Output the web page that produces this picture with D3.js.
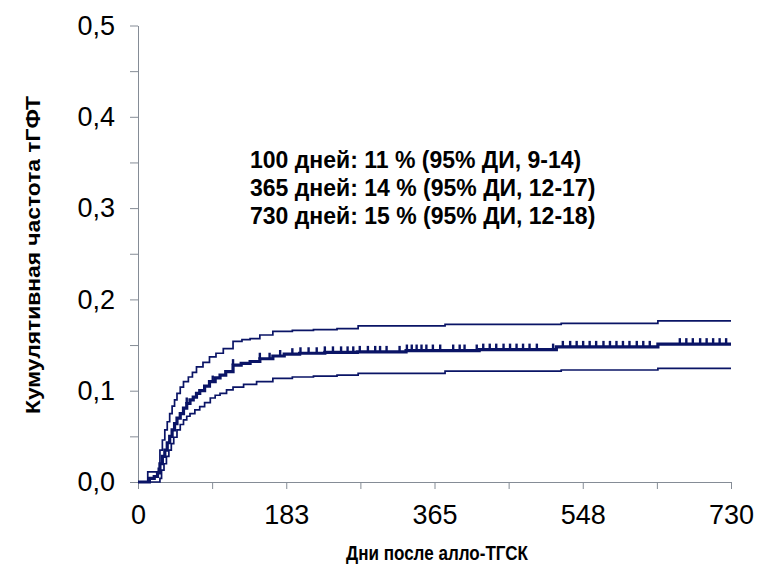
<!DOCTYPE html>
<html>
<head>
<meta charset="utf-8">
<script src="https://cdn.jsdelivr.net/npm/d3@7"></script>
<style>
  body { margin: 0; background: #fff; }
  svg { display: block; font-family: "Liberation Sans", Arial, sans-serif; }
</style>
</head>
<body>
<svg id="chart" width="758" height="568"></svg>
<script>
// cumulative incidence, estimate (step points)
const midDays = [0, 14, 20, 24, 27, 30, 33, 36, 39, 42, 45, 48, 52, 56, 60, 64, 68, 72, 76, 82, 88, 95, 101, 108, 117, 127, 138, 150, 166, 180, 199, 230, 270, 330, 420, 515, 640, 730];
const midVals = [0, 0.004, 0.006, 0.010, 0.020, 0.028, 0.035, 0.043, 0.050, 0.057, 0.064, 0.070, 0.075, 0.081, 0.086, 0.090, 0.093, 0.097, 0.100, 0.105, 0.110, 0.114, 0.117, 0.121, 0.128, 0.130, 0.132, 0.135, 0.138, 0.140, 0.141, 0.142, 0.1425, 0.144, 0.145, 0.148, 0.151, 0.151];

// upper 95% CI
const upperDays = [0, 12, 20, 25, 27, 30, 33, 36, 39, 42, 45, 48, 52, 56, 62, 67, 72, 80, 88, 96, 105, 117, 128, 138, 150, 166, 190, 216, 245, 271, 378, 521, 640, 730];
const upperVals = [0, 0.011, 0.011, 0.015, 0.035, 0.046, 0.057, 0.066, 0.075, 0.083, 0.090, 0.097, 0.104, 0.110, 0.115, 0.120, 0.126, 0.131, 0.137, 0.141, 0.146, 0.154, 0.156, 0.157, 0.161, 0.165, 0.166, 0.167, 0.168, 0.171, 0.1727, 0.1737, 0.1765, 0.1765];

// lower 95% CI
const lowDays = [0, 27, 29, 32, 35, 38, 41, 44, 48, 52, 56, 60, 64, 70, 76, 82, 89, 95, 101, 109, 117, 130, 146, 166, 190, 216, 245, 271, 378, 521, 640, 730];
const lowVals = [0, 0.004, 0.013, 0.020, 0.028, 0.035, 0.042, 0.049, 0.057, 0.063, 0.068, 0.072, 0.075, 0.079, 0.0825, 0.087, 0.092, 0.095, 0.097, 0.101, 0.104, 0.107, 0.110, 0.1135, 0.115, 0.116, 0.117, 0.119, 0.1215, 0.1227, 0.1245, 0.1245];

// censored observations (days)
const censorDays = [60, 92, 117, 150, 162, 175, 190, 200, 210, 220, 230, 240, 250, 258, 265, 273, 283, 292, 298, 306, 322, 331, 337, 343, 349, 355, 363, 372, 388, 396, 402, 417, 425, 433, 441, 450, 458, 466, 474, 482, 491, 511, 523, 532, 540, 548, 556, 564, 573, 581, 589, 597, 605, 614, 622, 630, 667, 675, 683, 692, 700, 708, 716, 724];

const yTicks = [0, 0.05, 0.1, 0.15, 0.2, 0.25, 0.3, 0.35, 0.4, 0.45, 0.5];
const xTicks = [0, 91.25, 182.5, 273.75, 365, 456.25, 547.5, 638.75, 730];
const xTickLabels = ['0', '', '183', '', '365', '', '548', '', '730'];

const notes = [
  '100 дней: 11 % (95% ДИ, 9-14)',
  '365 дней: 14 % (95% ДИ, 12-17)',
  '730 дней: 15 % (95% ДИ, 12-18)',
];

const svg = d3.select('#chart');
const margin = { left: 138, right: 27, top: 25.5, bottom: 86 };
const width = 758 - margin.left - margin.right;
const height = 568 - margin.top - margin.bottom;

const x = d3.scaleLinear().domain([0, 730]).range([0, width]);
const y = d3.scaleLinear().domain([0, 0.5]).range([height, 0]);

const ru = d3.formatLocale({ decimal: ',', thousands: ' ', grouping: [3], currency: ['', ''] });
const fmt = ru.format('.1f');

const g = svg.append('g').attr('transform', `translate(${margin.left},${margin.top})`);

const axisColor = '#858c96';
const lineColor = '#0a1466';

// y axis
const yAxis = g.append('g')
  .call(d3.axisLeft(y).tickValues(yTicks).tickSize(8).tickSizeOuter(0)
    .tickFormat(d => (Math.round(d * 100) % 10 === 0 ? fmt(d) : '')));
yAxis.select('.domain').attr('stroke', axisColor);
yAxis.selectAll('.tick line').attr('stroke', axisColor);
yAxis.selectAll('.tick text')
  .attr('x', -23)
  .attr('fill', '#000')
  .style('font-size', '27px');

// x axis
const xAxis = g.append('g')
  .attr('transform', `translate(0,${height})`)
  .call(d3.axisBottom(x).tickValues(xTicks).tickSize(7).tickSizeOuter(0)
    .tickFormat((d, i) => xTickLabels[i]));
xAxis.select('.domain').attr('stroke', axisColor);
xAxis.selectAll('.tick line').attr('stroke', axisColor);
xAxis.selectAll('.tick text')
  .attr('y', 42)
  .attr('dy', 0)
  .attr('fill', '#000')
  .style('font-size', '27px');

// curves
const line = d3.line()
  .x(d => x(d[0]))
  .y(d => y(d[1]))
  .curve(d3.curveStepAfter);

const series = [
  { days: upperDays, vals: upperVals, w: 1.7 },
  { days: lowDays, vals: lowVals, w: 1.7 },
  { days: midDays, vals: midVals, w: 3.2 },
];

g.selectAll('.curve')
  .data(series)
  .enter()
  .append('path')
  .classed('curve', true)
  .attr('fill', 'none')
  .attr('stroke', lineColor)
  .attr('stroke-width', d => d.w)
  .attr('d', d => line(d.days.map((t, i) => [t, d.vals[i]])));

// censor marks on the estimate
const bis = d3.bisector(d => d).right;
const midAt = t => midVals[Math.max(0, bis(midDays, t) - 1)];

g.selectAll('.censor')
  .data(censorDays)
  .enter()
  .append('line')
  .classed('censor', true)
  .attr('x1', d => x(d))
  .attr('x2', d => x(d))
  .attr('y1', d => y(midAt(d)))
  .attr('y2', d => y(midAt(d)) - 6)
  .attr('stroke', lineColor)
  .attr('stroke-width', 2.4);

// annotation
svg.append('g')
  .selectAll('text')
  .data(notes)
  .enter()
  .append('text')
  .attr('x', 250)
  .attr('y', (d, i) => 168 + i * 28)
  .style('font-size', '23px')
  .style('font-weight', 'bold')
  .text(d => d);

// axis titles
svg.append('text')
  .attr('x', 437)
  .attr('y', 560)
  .attr('text-anchor', 'middle')
  .style('font-size', '21px')
  .style('font-weight', 'bold')
  .attr('textLength', 182)
  .attr('lengthAdjust', 'spacingAndGlyphs')
  .text('Дни после алло-ТГСК');

svg.append('text')
  .attr('transform', 'translate(40,255) rotate(-90)')
  .attr('text-anchor', 'middle')
  .style('font-size', '21px')
  .style('font-weight', 'bold')
  .attr('textLength', 318)
  .attr('lengthAdjust', 'spacingAndGlyphs')
  .text('Кумулятивная частота тГФТ');
</script>
</body>
</html>
